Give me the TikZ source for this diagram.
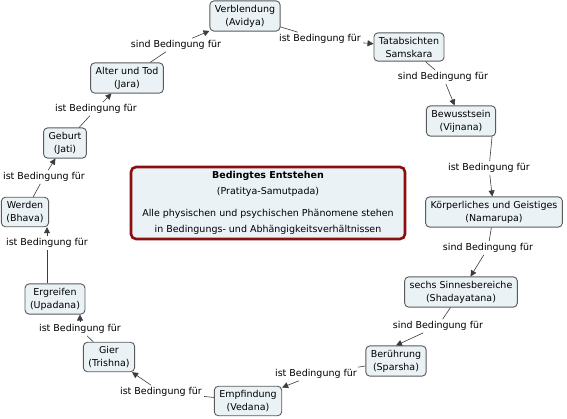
\documentclass[tikz,border=0pt]{standalone}
\usepackage{fontspec}
\setmainfont{DejaVu Sans}
\usetikzlibrary{arrows.meta}

\definecolor{conceptfill}{RGB}{234,242,246}
\definecolor{conceptdraw}{RGB}{90,90,90}
\definecolor{mainred}{RGB}{140,14,14}
\definecolor{linkgray}{RGB}{60,60,60}

\tikzset{
  concept/.style={draw=conceptdraw, fill=conceptfill, rounded corners=4pt, line width=0.9pt,
    align=center, inner xsep=5pt, inner ysep=4pt, font=\fontsize{9.5}{13}\selectfont},
  mainbox/.style={draw=mainred, fill=conceptfill, rounded corners=5pt, line width=2.6pt,
    align=center, minimum width=274pt, minimum height=72pt, font=\fontsize{9.5}{15.5}\selectfont},
  phrase/.style={inner sep=2pt, font=\fontsize{9.5}{12}\selectfont},
  link/.style={draw=linkgray, line width=0.6pt},
}

\begin{document}
\begin{tikzpicture}[x=1pt, y=-1pt, >={Triangle[length=6pt, width=6pt]}]
\useasboundingbox (0,0) rectangle (567,419);

% Centre
\node[mainbox] (entstehen) at (268,203) {\textbf{Bedingtes Entstehen}\\(Pratitya-Samutpada)\\[7pt]Alle physischen und psychischen Phänomene stehen\\in Bedingungs- und Abhängigkeitsverhältnissen};

% Die zwölf Glieder
\node[concept] (avidya) at (245,16) {Verblendung\\(Avidya)};
\node[concept] (samskara) at (409,47) {Tatabsichten\\Samskara};
\node[concept] (vijnana) at (461,121) {Bewusstsein\\(Vijnana)};
\node[concept] (namarupa) at (494,212) {Körperliches und Geistiges\\(Namarupa)};
\node[concept] (shadayatana) at (461,292) {sechs Sinnesbereiche\\(Shadayatana)};
\node[concept] (sparsha) at (396,361) {Berührung\\(Sparsha)};
\node[concept] (vedana) at (248,401) {Empfindung\\(Vedana)};
\node[concept] (trishna) at (109,357) {Gier\\(Trishna)};
\node[concept] (upadana) at (55,299) {Ergreifen\\(Upadana)};
\node[concept] (bhava) at (25,212) {Werden\\(Bhava)};
\node[concept] (jati) at (65,143) {Geburt\\(Jati)};
\node[concept] (jara) at (127,78) {Alter und Tod\\(Jara)};

% Verbindungswoerter
\node[phrase] (l1) at (176,45) {sind Bedingung für};
\node[phrase] (l2) at (320,39) {ist Bedingung für};
\node[phrase] (l3) at (443,77) {sind Bedingung für};
\node[phrase] (l4) at (489,168) {ist Bedingung für};
\node[phrase] (l5) at (488,248) {sind Bedingung für};
\node[phrase] (l6) at (438,326) {sind Bedingung für};
\node[phrase] (l7) at (316,374) {ist Bedingung für};
\node[phrase] (l8) at (161,392) {ist Bedingung für};
\node[phrase] (l9) at (80,329) {ist Bedingung für};
\node[phrase] (l10) at (47,243) {ist Bedingung für};
\node[phrase] (l11) at (44,177) {ist Bedingung für};
\node[phrase] (l12) at (96,109) {ist Bedingung für};

% Kreislauf
\draw[link] (jara) -- (l1);
\draw[link,->] (l1) -- (avidya);
\draw[link] (avidya) -- (l2);
\draw[link,->] (l2) -- (samskara);
\draw[link] (samskara) -- (l3);
\draw[link,->] (l3) -- (vijnana);
\draw[link] ([xshift=-4pt]vijnana.south east) -- (l4);
\draw[link,->] (l4) -- (namarupa);
\draw[link] (namarupa) -- (l5);
\draw[link,->] (l5) -- (shadayatana);
\draw[link] (shadayatana) -- (l6);
\draw[link,->] (l6) -- (sparsha.north);
\draw[link] (sparsha) -- (l7);
\draw[link,->] (l7) -- (vedana);
\draw[link] (vedana) -- (l8);
\draw[link,->] (l8) -- ([xshift=-3pt]trishna.south east);
\draw[link] (trishna) -- (l9);
\draw[link,->] (l9.north) -- (l9.north |- upadana.south);
\draw[link] (upadana.north -| l10) -- (l10.south);
\draw[link,->] (l10.north) -- (l10.north |- bhava.south);
\draw[link] (bhava) -- (l11);
\draw[link,->] (l11) -- (jati);
\draw[link] (jati) -- (l12);
\draw[link,->] (l12) -- (jara);

\end{tikzpicture}
\end{document}
